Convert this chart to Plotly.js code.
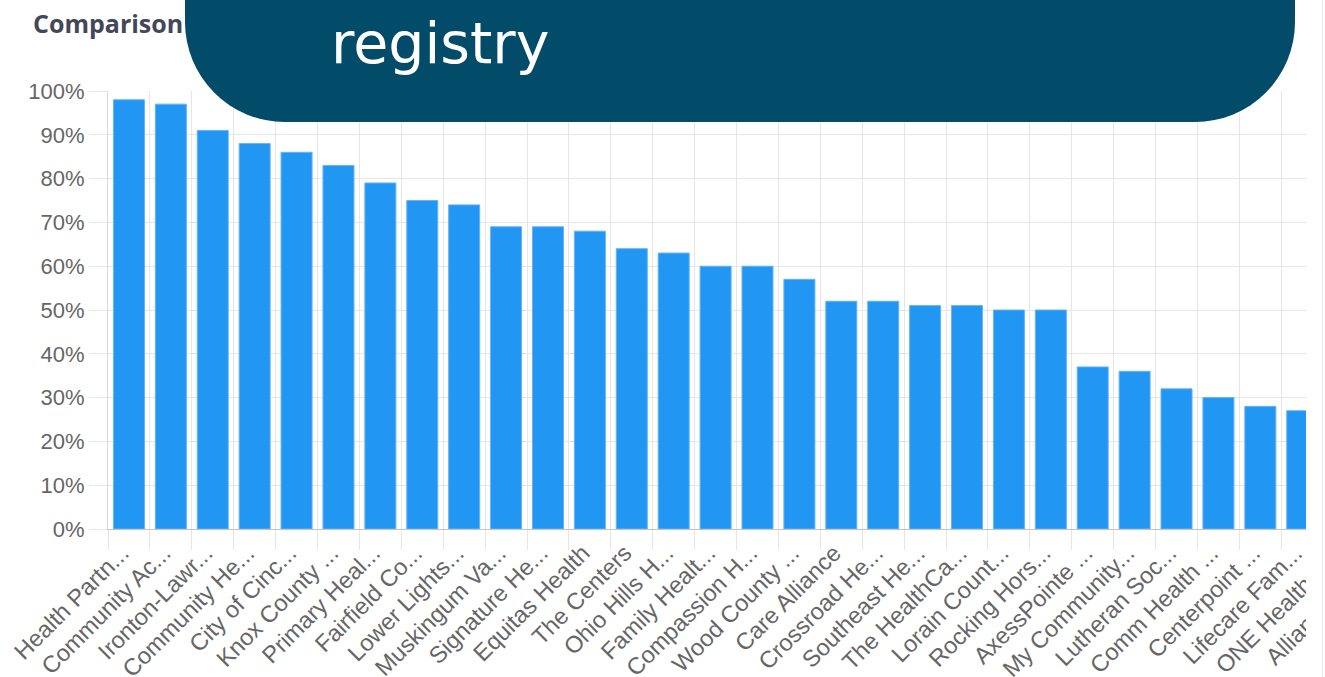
<!DOCTYPE html>
<html>
<head>
<meta charset="utf-8">
<script src="https://cdn.plot.ly/plotly-3.0.1.min.js"></script>
<style>
  html, body { margin: 0; padding: 0; background: #ffffff; width: 1325px; height: 677px; overflow: hidden; }
  #clip { position: absolute; left: 0; top: 0; width: 1306px; height: 677px; overflow: hidden; }
  #chart { position: absolute; left: 0; top: 0; width: 1417px; height: 677px; }
  #edge { position: absolute; left: 1322px; top: 0; width: 1px; height: 677px; background: #e6e8ea; }
  #banner { position: absolute; left: 185px; top: -100px; width: 1110px; height: 222px;
            border-radius: 100px; background: #024b69; overflow: hidden; }
  #banner span { position: absolute; left: 146px; top: 108px; color: #ffffff;
                 font-family: "DejaVu Sans", sans-serif; font-size: 57px; line-height: 70px; }
</style>
</head>
<body>
<div id="clip"><div id="chart"></div></div>
<div id="edge"></div>
<div id="banner"><span>registry</span></div>
<script>
// ---- data ----
const categories = [
  "Health Partn...", "Community Ac...", "Ironton-Lawr...", "Community He...",
  "City of Cinc...", "Knox County ...", "Primary Heal...", "Fairfield Co...",
  "Lower Lights...", "Muskingum Va...", "Signature He...", "Equitas Health",
  "The Centers", "Ohio Hills H...", "Family Healt...", "Compassion H...",
  "Wood County ...", "Care Alliance", "Crossroad He...", "Southeast He...",
  "The HealthCa...", "Lorain Count...", "Rocking Hors...", "AxessPointe ...",
  "My Community...", "Lutheran Soc...", "Comm Health ...", "Centerpoint ...",
  "Lifecare Fam...", "ONE Health O...", "Alliance Com..."
];
const values = [
  98, 97, 91, 88, 86, 83, 79, 75, 74, 69, 69, 68, 64, 63, 60, 60,
  57, 52, 52, 51, 51, 50, 50, 37, 36, 32, 30, 28, 27, 26, 25
];
const yTickValues = [0, 10, 20, 30, 40, 50, 60, 70, 80, 90, 100];
const chartTitle = "Comparison";

// ---- chart ----
const trace = {
  type: "bar",
  x: categories,
  y: values,
  marker: { color: "#2196F3", line: { color: "#64b4f6", width: 1 } },
  hoverinfo: "none"
};

const yFont = { family: "Liberation Sans, Arial, sans-serif", size: 22, color: "#666666" };
const xFont = { family: "Liberation Sans, Arial, sans-serif", size: 23.5, color: "#666666" };

const layout = {
  width: 1417,
  height: 677,
  margin: { l: 108, r: 10, t: 91, b: 148, pad: 0 },
  paper_bgcolor: "#ffffff",
  plot_bgcolor: "#ffffff",
  showlegend: false,
  bargap: 0.26,
  hovermode: false,
  title: {
    text: "<b>" + chartTitle + "</b>",
    font: { family: "Open Sans, sans-serif", size: 25, color: "#434757" },
    xref: "container", x: 33 / 1417, xanchor: "left",
    yref: "container", y: 1 - 24 / 677, yanchor: "middle"
  },
  xaxis: {
    type: "category",
    tickson: "boundaries",
    ticks: "outside",
    ticklen: 20,
    tickcolor: "#e6e6e6",
    tickwidth: 1,
    showgrid: true,
    gridcolor: "#e6e6e6",
    gridwidth: 1,
    tickangle: -45,
    tickfont: xFont,
    ticklabelshift: -7,
    showline: true,
    linecolor: "#c4c4c4",
    linewidth: 1,
    automargin: false,
    fixedrange: true
  },
  yaxis: {
    range: [0, 100],
    tickvals: yTickValues,
    ticktext: yTickValues.map(v => v + "%"),
    ticks: "outside",
    ticklen: 18,
    tickcolor: "#e6e6e6",
    tickwidth: 1,
    showgrid: true,
    gridcolor: "#e6e6e6",
    gridwidth: 1,
    zeroline: false,
    showline: true,
    linecolor: "#dadada",
    linewidth: 1,
    tickfont: yFont,
    automargin: false,
    fixedrange: true
  }
};

Plotly.newPlot("chart", [trace], layout, { staticPlot: true, displayModeBar: false });
</script>
</body>
</html>
